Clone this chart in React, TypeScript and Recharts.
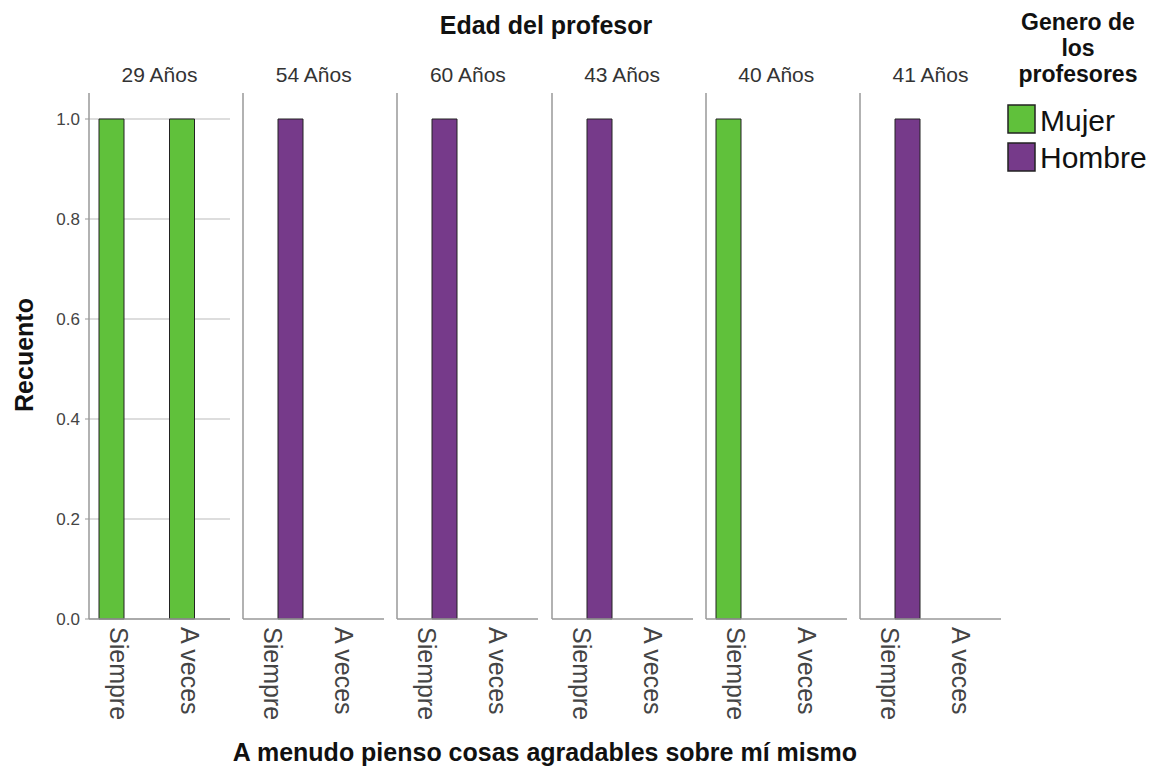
import React from 'react';
import { BarChart, Bar, XAxis, YAxis, CartesianGrid, Legend } from 'recharts';

const ages = ['29 Años', '54 Años', '60 Años', '43 Años', '40 Años', '41 Años'];
const categories = ['Siempre', 'A veces'];
const mujerCounts = [[1, 1], [0, 0], [0, 0], [0, 0], [1, 0], [0, 0]];
const hombreCounts = [[0, 0], [1, 0], [1, 0], [1, 0], [0, 0], [1, 0]];
const yTicks = [0, 0.2, 0.4, 0.6, 0.8, 1.0];
const seriesNames = ['Mujer', 'Hombre'];
const seriesColors = ['#60c13b', '#763a8a'];
const legendTitleLines = ['Genero de', 'los', 'profesores'];

const FONT = '"Liberation Sans", Arial, sans-serif';
const PLOT_TOP = 93;
const PLOT_BOTTOM = 619;
const PLOT_W = 141;
const PANEL_STEP = 154.2;
const FIRST_LEFT = 89;
const YAXIS_W = 60;
const CHART_H = 772;
const XAXIS_H = 120;

function XTick(props: any) {
  const { x, y, payload } = props;
  return (
    <text
      transform={`translate(${x - 5},${y + 8}) rotate(90)`}
      textAnchor="start"
      dominantBaseline="central"
      fontSize={25}
      fill="#444"
      fontFamily={FONT}
    >
      {payload.value}
    </text>
  );
}

function LegendContent(props: any) {
  const payload = [...(props.payload || [])].sort(
    (a: any, b: any) => seriesNames.indexOf(a.value) - seriesNames.indexOf(b.value)
  );
  return (
    <svg width={151} height={180} style={{ overflow: 'visible', display: 'block' }}>
      {legendTitleLines.map((t, k) => (
        <text key={t} x={78} y={30 + k * 26} textAnchor="middle" fontSize={23} fontWeight="bold" fill="#111" fontFamily={FONT}>
          {t}
        </text>
      ))}
      {payload.map((p: any, k: number) => (
        <g key={p.value}>
          <rect x={8} y={105 + k * 38} width={27} height={28} fill={p.color} stroke="#222" strokeWidth={1.5} />
          <text x={40} y={131 + k * 37} fontSize={30} fill="#111" fontFamily={FONT}>
            {p.value}
          </text>
        </g>
      ))}
    </svg>
  );
}

export default function App() {
  return (
    <div style={{ position: 'absolute', left: 0, top: 0, width: 1151, height: 772, background: '#fff', fontFamily: FONT }}>
      {ages.map((age, i) => {
        const data = categories.map((c, j) => ({
          cat: c,
          Mujer: mujerCounts[i][j] || null,
          Hombre: hombreCounts[i][j] || null,
        }));
        const left = FIRST_LEFT + i * PANEL_STEP - YAXIS_W;
        const isFirst = i === 0;
        const isLast = i === ages.length - 1;
        return (
          <div key={age} style={{ position: 'absolute', left, top: 0 }}>
            <BarChart
              width={YAXIS_W + PLOT_W}
              height={CHART_H}
              data={data}
              margin={{ top: PLOT_TOP, right: 0, left: 0, bottom: CHART_H - PLOT_BOTTOM - XAXIS_H }}
              barGap={0}
            >
              <CartesianGrid vertical={false} syncWithTicks={true} fill="none" stroke="#d2d2d2" strokeWidth={1.5} />
              <XAxis
                dataKey="cat"
                height={XAXIS_H}
                tickLine={false}
                tickSize={0}
                tickMargin={0}
                interval={0}
                tick={(p: any) => <XTick {...p} />}
                axisLine={{ stroke: '#999', strokeWidth: 1.5 }}
              />
              <YAxis
                width={YAXIS_W}
                domain={[0, 1.052]}
                ticks={yTicks}
                type="number"
                axisLine={{ stroke: '#999', strokeWidth: 1.5 }}
                tick={isFirst ? { fill: '#444', fontSize: 17, fontFamily: FONT } : false}
                tickLine={isFirst ? { stroke: '#999' } : false}
                tickSize={4}
                tickMargin={5}
                tickFormatter={(v: number) => v.toFixed(1)}
              />
              {seriesNames.map((name, k) => (
                <Bar
                  key={name}
                  dataKey={name}
                  name={name}
                  fill={seriesColors[k]}
                  stroke="#222"
                  strokeWidth={1}
                  barSize={25}
                  isAnimationActive={false}
                />
              ))}
              {isLast && (
                <Legend
                  layout="vertical"
                  align="center"
                  verticalAlign="middle"
                  itemSorter={null as any}
                  content={(p: any) => <LegendContent {...p} />}
                  wrapperStyle={{ left: 1000 - left, top: 0, width: 151, height: 180 }}
                />
              )}
            </BarChart>
          </div>
        );
      })}
      <svg width={1151} height={772} style={{ position: 'absolute', left: 0, top: 0, pointerEvents: 'none' }}>
        <text x={546} y={34} textAnchor="middle" fontSize={25} fontWeight="bold" fill="#111" fontFamily={FONT}>
          Edad del profesor
        </text>
        {ages.map((age, i) => (
          <text key={age} x={FIRST_LEFT + i * PANEL_STEP + PLOT_W / 2} y={82} textAnchor="middle" fontSize={21} fill="#333" fontFamily={FONT}>
            {age}
          </text>
        ))}
        <text x={545} y={761} textAnchor="middle" fontSize={25} fontWeight="bold" fill="#111" fontFamily={FONT}>
          A menudo pienso cosas agradables sobre mí mismo
        </text>
        <text transform="translate(33,355) rotate(-90)" textAnchor="middle" fontSize={25} fontWeight="bold" fill="#111" fontFamily={FONT}>
          Recuento
        </text>
      </svg>
    </div>
  );
}
